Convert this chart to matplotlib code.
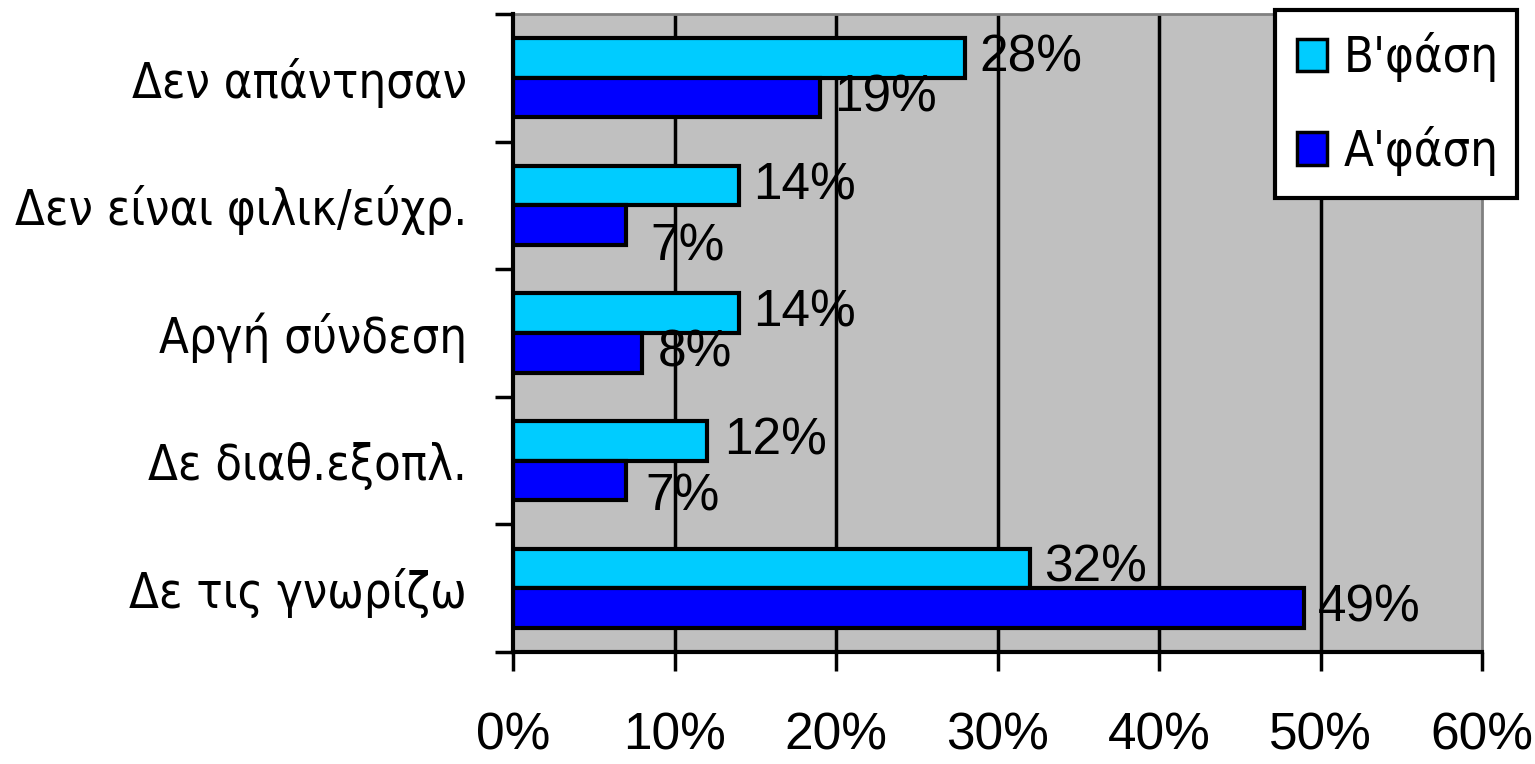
import matplotlib
matplotlib.use("Agg")
import matplotlib.pyplot as plt
from matplotlib.patches import Patch
import numpy as np

categories = ["Δε τις γνωρίζω", "Δε διαθ.εξοπλ.", "Αργή σύνδεση",
              "Δεν είναι φιλικ/εύχρ.", "Δεν απάντησαν"]
phase_b = [32, 12, 14, 14, 28]   # B'φάση
phase_a = [49, 7, 8, 7, 19]      # A'φάση
series_names = ["B'φάση", "A'φάση"]
xticks = [0, 10, 20, 30, 40, 50, 60]

num_font = "Liberation Sans"
lab_font = ["DejaVu Sans"]
NUM_SIZE = 37
LAB_SIZE = 35

DPI = 100
fig = plt.figure(figsize=(15.35, 7.64), dpi=DPI)
ax = fig.add_axes([513/1535, 1-652/764, (1482-513)/1535, (652-14)/764])
ax.set_facecolor("#c0c0c0")

y = np.arange(len(categories))
h = 0.31
ax.barh(y + h/2, phase_b, height=h, color="#00ccff", edgecolor="black", linewidth=3, zorder=3)
ax.barh(y - h/2, phase_a, height=h, color="#0000ff", edgecolor="black", linewidth=3, zorder=3)

ax.set_xlim(0, 60)
ax.set_ylim(-0.5, len(categories) - 0.5)

for xv in xticks[1:-1]:
    ax.axvline(xv, color="black", linewidth=2.5, zorder=1)

ax.set_xticks(xticks)
ax.set_xticklabels([f"{v}%" for v in xticks], fontfamily=num_font, fontsize=NUM_SIZE)
ax.tick_params(axis="x", length=14, width=2.5, pad=29, colors="black")

ax.set_yticks(y)
ax.set_yticklabels(categories, fontfamily=lab_font, fontsize=LAB_SIZE, fontstretch="condensed")
ax.tick_params(axis="y", which="major", length=0, pad=33)
ax.set_yticks(np.arange(-0.5, len(categories)), minor=True)
ax.tick_params(axis="y", which="minor", length=13, width=2.5)

for s in ["left", "bottom"]:
    ax.spines[s].set_color("black")
    ax.spines[s].set_linewidth(3)
    ax.spines[s].set_zorder(4)
for s in ["top", "right"]:
    ax.spines[s].set_color("#808080")
    ax.spines[s].set_linewidth(2)

px = 72 / DPI
off_b = {i: (14, 0) for i in range(5)}
off_a = {i: (14, 0) for i in range(5)}
off_a[3] = (24, -22)
off_a[1] = (19, -17)
off_a[2] = (16, 0)
off_b[1] = (17, 0)

for i in range(len(categories)):
    dx, dy = off_b[i]
    ax.annotate(f"{phase_b[i]}%", (phase_b[i], y[i] + h/2), xytext=(dx*px, dy*px),
                textcoords="offset points", ha="left", va="center",
                fontfamily=num_font, fontsize=NUM_SIZE, zorder=5)
    dx, dy = off_a[i]
    ax.annotate(f"{phase_a[i]}%", (phase_a[i], y[i] - h/2), xytext=(dx*px, dy*px),
                textcoords="offset points", ha="left", va="center",
                fontfamily=num_font, fontsize=NUM_SIZE, zorder=5)

handles = [Patch(facecolor="#00ccff", edgecolor="black", linewidth=2.5),
           Patch(facecolor="#0000ff", edgecolor="black", linewidth=2.5)]
leg = fig.legend(handles, series_names, loc="upper left",
                 bbox_to_anchor=(1275/1535, 1-197/764, (1517-1275)/1535, (197-10)/764),
                 mode="expand", frameon=True, fancybox=False,
                 prop={"family": lab_font, "size": LAB_SIZE, "stretch": "condensed"},
                 handlelength=0.62, handleheight=0.65, handletextpad=0.35,
                 labelspacing=0.9, borderpad=0.45, borderaxespad=0)
leg.get_frame().set_edgecolor("black")
leg.get_frame().set_linewidth(3)
leg.get_frame().set_facecolor("white")
leg.get_frame().set_alpha(1)

fig.savefig("out.png", dpi=DPI)
